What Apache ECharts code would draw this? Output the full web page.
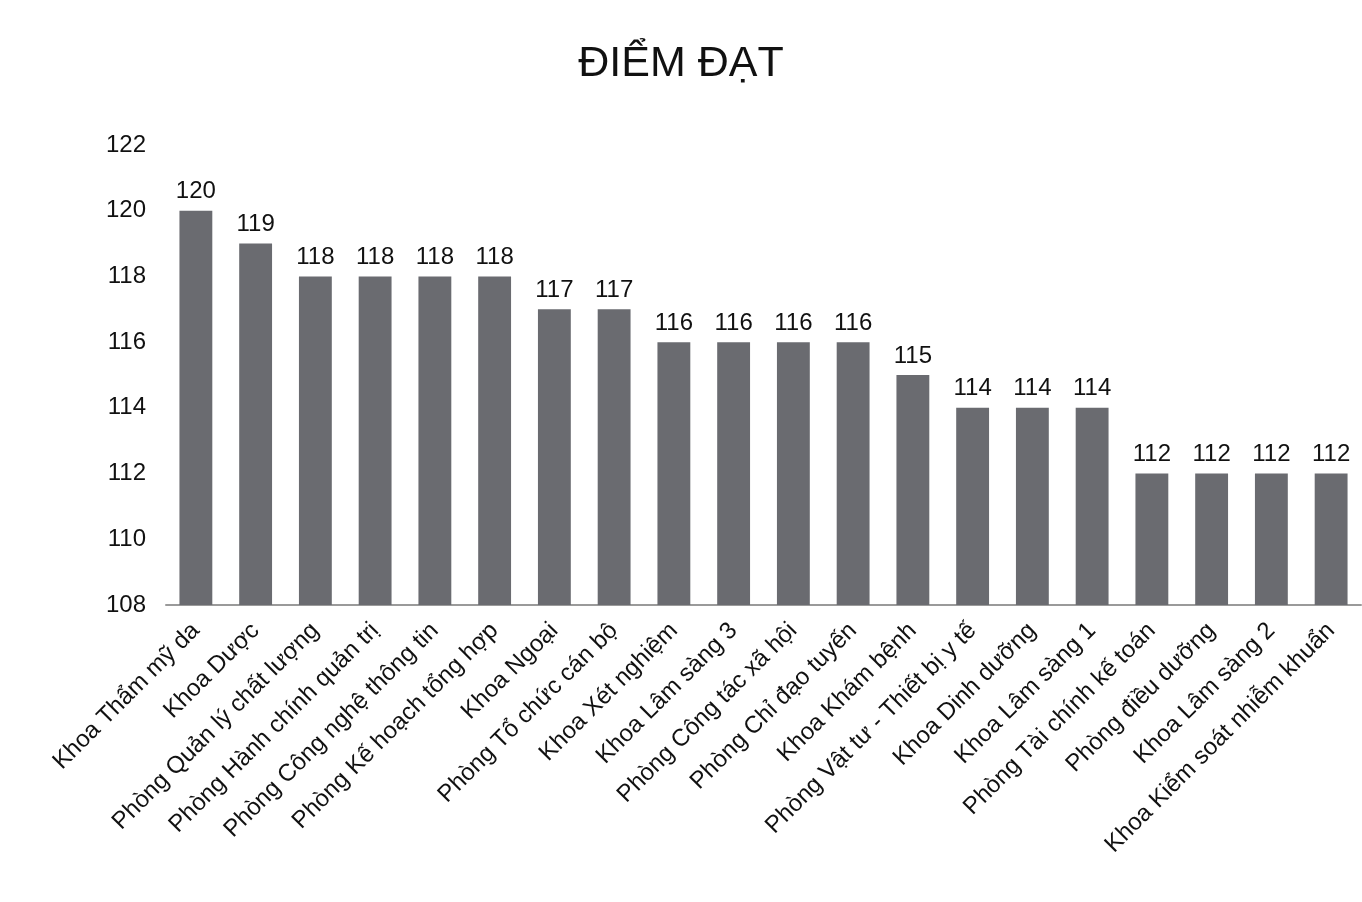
<!DOCTYPE html>
<html><head><meta charset="utf-8">
<script src="https://cdn.jsdelivr.net/npm/echarts@6/dist/echarts.min.js"></script>
<style>html,body{margin:0;padding:0;background:#fff}#c{width:1362px;height:902px}</style>
</head><body><div id="c"></div>
<script>
const titleText = "ĐIỂM ĐẠT";
const categories = ["Khoa Thẩm mỹ da","Khoa Dược","Phòng Quản lý chất lượng","Phòng Hành chính quản trị","Phòng Công nghệ thông tin","Phòng Kế hoạch tổng hợp","Khoa Ngoại","Phòng Tổ chức cán bộ","Khoa Xét nghiệm","Khoa Lâm sàng 3","Phòng Công tác xã hội","Phòng Chỉ đạo tuyến","Khoa Khám bệnh","Phòng Vật tư - Thiết bị y tế","Khoa Dinh dưỡng","Khoa Lâm sàng 1","Phòng Tài chính kế toán","Phòng điều dưỡng","Khoa Lâm sàng 2","Khoa Kiểm soát nhiễm khuẩn"];
const values = [120,119,118,118,118,118,117,117,116,116,116,116,115,114,114,114,112,112,112,112];
const yMin = 108, yMax = 122, yStep = 2;
const chart = echarts.init(document.getElementById('c'));
chart.setOption({
  animation:false,
  textStyle:{fontFamily:'Liberation Sans, Arial, sans-serif'},
  title:{text:titleText,left:'center',top:38,textStyle:{fontSize:43,fontWeight:'normal',color:'#111',fontFamily:'Liberation Sans, Arial, sans-serif'}},
  grid:{left:166,right:1,top:145,bottom:297,containLabel:false},
  xAxis:{type:'category',data:categories,
    axisLine:{lineStyle:{color:'#9a9a9a',width:2}},axisTick:{show:false},
    axisLabel:{rotate:45,interval:0,fontSize:24,color:'#111',margin:22}},
  yAxis:{type:'value',min:yMin,max:yMax,interval:yStep,
    axisLine:{show:false},axisTick:{show:false},splitLine:{show:false},
    axisLabel:{fontSize:24,color:'#111',margin:20}},
  series:[{type:'bar',data:values,barWidth:'55%',
    itemStyle:{color:'#6a6b70'},
    label:{show:true,position:'top',fontSize:24,color:'#111',distance:7}}]
});
</script></body></html>
